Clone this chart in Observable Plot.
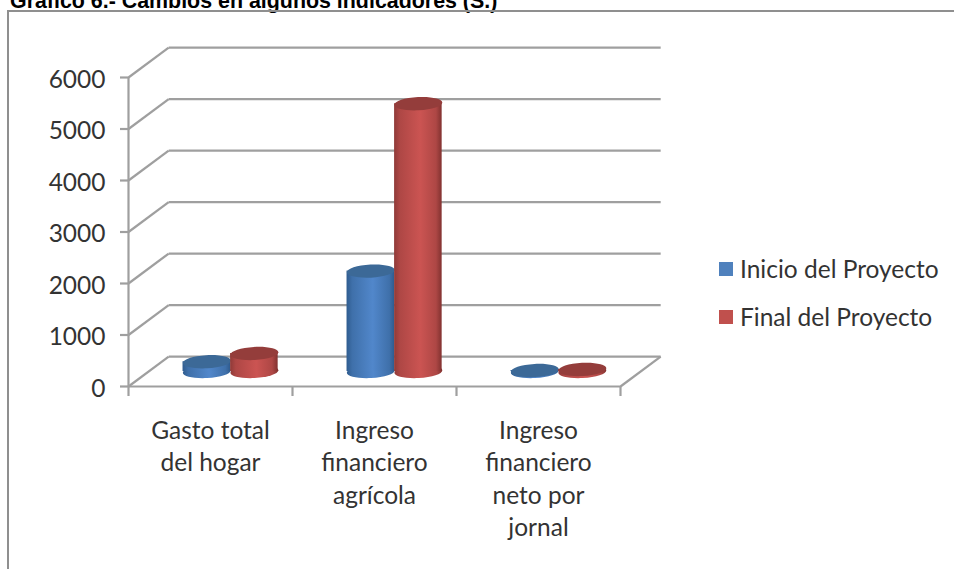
<!DOCTYPE html>
<html lang="es">
<head>
<meta charset="utf-8">
<script src="https://cdn.jsdelivr.net/npm/d3@7"></script>
<script src="https://cdn.jsdelivr.net/npm/@observablehq/plot@0.6"></script>
<style>
  html, body { margin: 0; padding: 0; background: #fff; width: 954px; height: 569px; overflow: hidden; }
  #title { position: absolute; left: 10px; top: -11px; font: bold 21.4px "Liberation Sans", sans-serif; color: #000; white-space: nowrap; }
  #frame { position: absolute; left: 7px; top: 10px; width: 960px; height: 580px; border: 2px solid #8f8f8f; box-sizing: border-box; }
  #chart { position: absolute; left: 0; top: 0; }
  .legend { position: absolute; left: 719px; font: 24.5px Lato, sans-serif; color: #333; white-space: nowrap; line-height: 28px; }
  .legend i { position: absolute; left: 0; top: 7px; width: 14px; height: 14px; }
  .legend span { position: absolute; left: 21px; top: 0; }
</style>
</head>
<body>
<div id="title">Gráfico 6.- Cambios en algunos indicadores (S.)</div>
<div id="frame"></div>
<div id="chart"></div>
<div class="legend" style="top:255px"><i style="background:#4f81bd"></i><span>Inicio del Proyecto</span></div>
<div class="legend" style="top:303px"><i style="background:#c0504d"></i><span>Final del Proyecto</span></div>
<script>
const categories = ["Gasto total\ndel hogar", "Ingreso\nfinanciero\nagrícola", "Ingreso\nfinanciero\nneto por\njornal"];
const inicio = [190, 1950, 20];
const final = [350, 5200, 40];
const yTicks = [0, 1000, 2000, 3000, 4000, 5000, 6000];
const xEdges = [0, 1, 2, 3];

// oblique depth of the 3D box, in data units
const depthX = 0.245, depthY = 582, barW = 0.29;
const grey = "#9f9f9f";

const rows = s => s.values.map((v, i) => ({
  v,
  xc: i + 0.5 + depthX / 2 + (s.k - 0.5) * barW
}));
const series = [
  {k: 0, values: inicio, grad: "url(#gBlue)", top: "#3c6997"},
  {k: 1, values: final, grad: "url(#gRed)", top: "#943d3b"}
];

// slightly tilted ellipse, the cap of a cylinder
const rx = 24, ry = 6.6, tilt = -3 * Math.PI / 180, K = 0.5523;
const cap = {
  draw(c) {
    const p = (a, b) => {
      const x = a * rx, y = b * ry;
      return [x * Math.cos(tilt) - y * Math.sin(tilt), x * Math.sin(tilt) + y * Math.cos(tilt)];
    };
    c.moveTo(...p(1, 0));
    c.bezierCurveTo(...p(1, K), ...p(K, 1), ...p(0, 1));
    c.bezierCurveTo(...p(-K, 1), ...p(-1, K), ...p(-1, 0));
    c.bezierCurveTo(...p(-1, -K), ...p(-K, -1), ...p(0, -1));
    c.bezierCurveTo(...p(K, -1), ...p(1, -K), ...p(1, 0));
    c.closePath();
  }
};

const cylinders = series.flatMap(s => {
  const d = rows(s);
  return [
    Plot.dot(d, {x: "xc", y: () => depthY / 2, symbol: cap, r: 10, fill: s.grad, stroke: "none"}),
    Plot.rect(d, {x1: r => r.xc - barW / 2, x2: r => r.xc + barW / 2, y1: () => depthY / 2, y2: r => r.v + depthY / 2, fill: s.grad}),
    Plot.dot(d, {x: "xc", y: r => r.v + depthY / 2, symbol: cap, r: 10, fill: s.top, stroke: "none"})
  ];
});

const plot = Plot.plot({
  width: 954,
  height: 569,
  marginLeft: 128,
  marginRight: 334,
  marginTop: 77,
  marginBottom: 183,
  style: {fontFamily: "Lato, sans-serif", background: "transparent", overflow: "visible"},
  x: {type: "linear", domain: [0, 3], axis: null, label: null},
  y: {type: "linear", domain: [0, 6000], axis: null, label: null},
  marks: [
    // back wall lines and side wall diagonals
    Plot.link(yTicks, {x1: () => depthX, x2: () => 3 + depthX, y1: d => d + depthY, y2: d => d + depthY, stroke: grey, strokeWidth: 2.2}),
    Plot.link(yTicks, {x1: () => 0, x2: () => depthX, y1: d => d, y2: d => d + depthY, stroke: grey, strokeWidth: 2.2}),
    // floor right edge
    Plot.link([0], {x1: () => 3, x2: () => 3 + depthX, y1: d => d, y2: d => d + depthY, stroke: grey, strokeWidth: 2.2}),
    // value axis and category axis lines
    Plot.ruleX([0], {y1: 0, y2: 6000, stroke: grey, strokeWidth: 2.2}),
    Plot.ruleY([0], {x1: 0, x2: 3, stroke: grey, strokeWidth: 2.2}),
    Plot.axisY({ticks: yTicks, tickSize: 8, tickFormat: () => "", stroke: grey, strokeWidth: 2.2, label: null}),
    Plot.axisY({ticks: yTicks, tickSize: 0, tickPadding: 23, dy: 2.5, fontSize: 24.5, color: "#333", tickFormat: d => String(d), label: null}),
    Plot.axisX({ticks: xEdges, tickSize: 10, tickFormat: () => "", stroke: grey, strokeWidth: 2.2, label: null}),
    ...cylinders,
    Plot.text(categories, {x: (d, i) => i + 0.5, y: () => 0, text: d => d, dy: 29, lineAnchor: "top", lineHeight: 1.33, fontSize: 24.5, fill: "#333"})
  ]
});
plot.insertAdjacentHTML("afterbegin", `<defs>
  <linearGradient id="gBlue" x1="0" x2="1" y1="0" y2="0">
    <stop offset="0" stop-color="#2f5c8f"/><stop offset="0.12" stop-color="#3f70aa"/><stop offset="0.55" stop-color="#5187cb"/><stop offset="0.9" stop-color="#3f70aa"/><stop offset="1" stop-color="#2f5c8f"/>
  </linearGradient>
  <linearGradient id="gRed" x1="0" x2="1" y1="0" y2="0">
    <stop offset="0" stop-color="#8f3a38"/><stop offset="0.12" stop-color="#ae4745"/><stop offset="0.55" stop-color="#cb5452"/><stop offset="0.88" stop-color="#ae4745"/><stop offset="1" stop-color="#823230"/>
  </linearGradient>
</defs>`);
document.getElementById("chart").appendChild(plot);
</script>
</body>
</html>
